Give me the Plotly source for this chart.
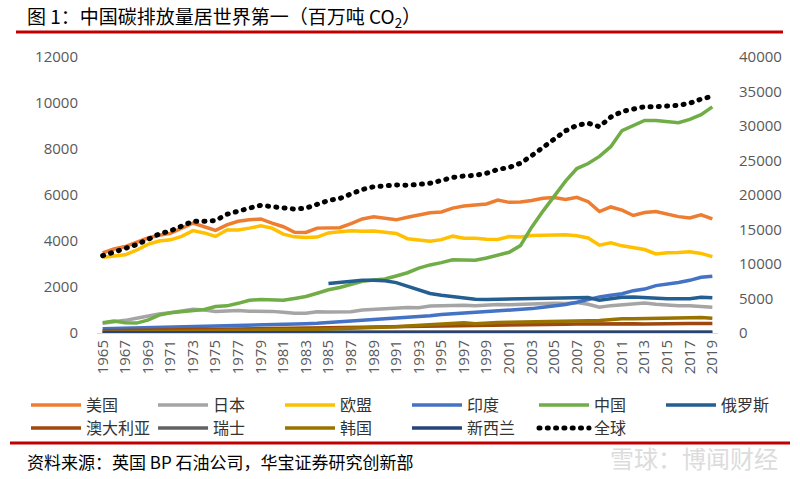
import plotly.graph_objects as go

years = list(range(1965, 2020))

usa = [3480, 3650, 3760, 3950, 4130, 4250, 4330, 4560, 4780, 4620,
       4460, 4700, 4860, 4920, 4960, 4780, 4620, 4380, 4370, 4560,
       4580, 4580, 4760, 4960, 5050, 4990, 4920, 5030, 5140, 5230,
       5260, 5430, 5520, 5550, 5610, 5780, 5680, 5700, 5760, 5860,
       5890, 5810, 5900, 5710, 5280, 5480, 5340, 5110, 5240, 5280,
       5160, 5060, 5000, 5140, 4960]

japan = [420, 470, 550, 640, 730, 830, 880, 940, 1030, 1000,
         940, 960, 980, 950, 960, 940, 900, 860, 860, 920,
         910, 910, 920, 1000, 1030, 1080, 1100, 1110, 1100, 1170,
         1190, 1210, 1210, 1180, 1220, 1240, 1230, 1250, 1260, 1280,
         1290, 1280, 1320, 1250, 1120, 1190, 1230, 1280, 1300, 1250,
         1210, 1190, 1180, 1150, 1120]

eu = [3290, 3330, 3400, 3600, 3850, 4000, 4050, 4200, 4450, 4350,
      4200, 4480, 4480, 4560, 4660, 4560, 4300, 4180, 4150, 4170,
      4350, 4400, 4450, 4420, 4430, 4380, 4330, 4100, 4040, 3990,
      4060, 4210, 4120, 4120, 4080, 4070, 4190, 4170, 4240, 4250,
      4240, 4270, 4230, 4130, 3820, 3920, 3790, 3720, 3630, 3440,
      3490, 3500, 3530, 3460, 3320]

india = [190, 200, 205, 220, 230, 240, 250, 260, 270, 280,
         290, 300, 310, 320, 330, 340, 360, 380, 400, 420,
         450, 480, 510, 550, 590, 620, 650, 690, 710, 750,
         800, 830, 860, 880, 930, 970, 990, 1020, 1060, 1120,
         1170, 1240, 1340, 1450, 1570, 1640, 1710, 1840, 1910, 2060,
         2120, 2200, 2290, 2420, 2470]

china = [450, 520, 450, 430, 560, 780, 880, 930, 1000, 1020,
         1150, 1180, 1290, 1420, 1460, 1440, 1420, 1500, 1590, 1730,
         1880, 1980, 2110, 2250, 2300, 2350, 2480, 2620, 2820, 2960,
         3060, 3180, 3170, 3160, 3260, 3370, 3510, 3800, 4600, 5300,
         5950, 6600, 7150, 7370, 7680, 8100, 8800, 9000, 9240, 9240,
         9200, 9140, 9290, 9490, 9830]

russia = [None] * 20 + [
          2150, 2200, 2250, 2290, 2290, 2270, 2190, 2030, 1900, 1720,
          1640, 1580, 1510, 1470, 1460, 1470, 1470, 1470, 1500, 1500,
          1490, 1530, 1530, 1540, 1420, 1490, 1550, 1560, 1530, 1520,
          1490, 1490, 1490, 1550, 1530]

australia = [95, 100, 105, 110, 115, 125, 130, 135, 145, 150,
             155, 165, 175, 180, 190, 200, 205, 210, 210, 215,
             220, 225, 235, 245, 260, 265, 265, 270, 275, 280,
             290, 300, 310, 325, 335, 340, 345, 350, 355, 365,
             375, 380, 390, 400, 410, 405, 405, 405, 395, 390,
             395, 405, 410, 415, 415]

switzerland = [30, 32, 34, 36, 38, 40, 42, 43, 44, 42,
               40, 41, 42, 43, 43, 42, 41, 40, 41, 42,
               43, 44, 44, 43, 43, 44, 45, 45, 44, 43,
               43, 44, 44, 45, 45, 44, 45, 44, 45, 45,
               46, 45, 43, 44, 43, 44, 41, 42, 43, 40,
               39, 39, 38, 37, 37]

korea = [20, 25, 30, 40, 45, 55, 60, 65, 75, 80,
         85, 95, 110, 120, 135, 135, 140, 145, 155, 165,
         175, 185, 195, 215, 225, 245, 270, 305, 340, 365,
         395, 425, 450, 400, 435, 460, 465, 480, 485, 495,
         500, 505, 525, 535, 540, 590, 620, 615, 620, 615,
         625, 640, 665, 675, 640]

new_zealand = [10, 11, 11, 12, 12, 13, 14, 14, 15, 15,
               15, 16, 16, 16, 17, 17, 18, 19, 20, 21,
               22, 23, 24, 25, 25, 26, 27, 28, 28, 29,
               29, 30, 32, 31, 33, 34, 35, 35, 36, 36,
               37, 37, 36, 37, 35, 35, 34, 35, 35, 35,
               35, 34, 35, 35, 35]

world = [11200, 11700, 12150, 12800, 13550, 14350, 14800, 15550, 16200, 16200,
         16300, 17200, 17720, 18100, 18500, 18300, 18100, 17950, 18100, 18700,
         19200, 19500, 20100, 20800, 21200, 21400, 21450, 21400, 21550, 21700,
         22100, 22550, 22750, 22850, 23150, 23700, 24000, 24600, 25700, 26900,
         28200, 29300, 30100, 30400, 29900, 31300, 32100, 32500, 32800, 32800,
         32850, 33000, 33300, 33900, 34300]

names = ["美国", "日本", "欧盟", "印度", "中国", "俄罗斯",
         "澳大利亚", "瑞士", "韩国", "新西兰"]
values = [usa, japan, eu, india, china, russia,
          australia, switzerland, korea, new_zealand]
colors = ["#ED7D31", "#A5A5A5", "#FFC000", "#4472C4", "#70AD47", "#255E91",
          "#9E480E", "#636363", "#997300", "#264478"]

for v in values + [world]:
    assert len(v) == len(years), len(v)

tick_years = years[::2]

# legend groups: two rows, each split into a left and right block of 3 entries
legend_ids = ["legend", "legend", "legend", "legend2", "legend2", "legend2",
              "legend3", "legend3", "legend3", "legend4"]

fig = go.Figure()
for nm, vals, col, lg in zip(names, values, colors, legend_ids):
    fig.add_trace(go.Scatter(
        x=years, y=vals, name=nm, mode="lines",
        line=dict(color=col, width=3.5), legend=lg,
    ))
fig.add_trace(go.Scatter(
    x=years, y=world, name="全球", mode="lines", yaxis="y2",
    line=dict(color="#000000", width=5, dash="1px,7.3px"),
    legend="legend4",
))

axis_font = dict(family="Open Sans, DejaVu Sans, sans-serif", size=15, color="#595959")
legend_common = dict(
    orientation="h", xref="container", yref="container",
    xanchor="left", yanchor="middle",
    entrywidth=62, entrywidthmode="pixels",
    font=dict(family="Noto Sans CJK SC, sans-serif", size=16, color="#333333"),
    bgcolor="rgba(0,0,0,0)", itemwidth=50,
    tracegroupgap=0,
)
row1_y = 1 - 405 / 479
row2_y = 1 - 428 / 479
left_x = 26 / 800
right_x = (26 + 3 * 127) / 800

fig.update_layout(
    width=800, height=479,
    margin=dict(l=97, r=82, t=57, b=146, autoexpand=False),
    paper_bgcolor="white", plot_bgcolor="white",
    font=dict(family="Noto Sans CJK SC, sans-serif", color="#333333"),
    title=dict(
        text="图 1：中国碳排放量居世界第一（百万吨 CO<sub>2</sub>）",
        xref="container", yref="container",
        x=27 / 800, xanchor="left", y=1 - 17 / 479, yanchor="middle",
        font=dict(family="Noto Sans CJK SC, sans-serif", size=19, color="#000000"),
    ),
    xaxis=dict(
        range=[1964.5, 2019.5], tickmode="array", tickvals=tick_years,
        ticktext=[str(y) for y in tick_years], tickangle=-90,
        tickfont=axis_font, showgrid=False, zeroline=False,
        showline=True, linecolor="#D9D9D9", linewidth=1, ticks="",
        automargin=False,
    ),
    yaxis=dict(
        range=[0, 12000], dtick=2000, tickformat="d", showgrid=False,
        zeroline=False, showline=False, ticks="", tickfont=axis_font,
        ticklabelstandoff=18, automargin=False,
    ),
    yaxis2=dict(
        range=[0, 40000], dtick=5000, tickformat="d", showgrid=False,
        zeroline=False, showline=False, ticks="", tickfont=axis_font,
        overlaying="y", side="right", ticklabelstandoff=20, automargin=False,
    ),
    legend=dict(x=left_x, y=row1_y, **legend_common),
    legend2=dict(x=right_x, y=row1_y, **legend_common),
    legend3=dict(x=left_x, y=row2_y, **legend_common),
    legend4=dict(x=right_x, y=row2_y, **legend_common),
    showlegend=True,
)

# red rules above the chart and above the source line
def px_x(p):
    return (p - 97) / 621

def px_y(p):
    return (333 - p) / 276

fig.add_shape(type="line", xref="paper", yref="paper",
              x0=px_x(16), x1=px_x(783), y0=px_y(32), y1=px_y(32),
              line=dict(color="#C00000", width=3))
fig.add_shape(type="line", xref="paper", yref="paper",
              x0=px_x(10), x1=px_x(790), y0=px_y(443), y1=px_y(443),
              line=dict(color="#C00000", width=3))

fig.add_annotation(
    text="资料来源：英国 BP 石油公司，华宝证券研究创新部",
    xref="paper", yref="paper", x=px_x(25), y=px_y(461),
    xanchor="left", yanchor="middle", showarrow=False,
    font=dict(family="Noto Sans CJK SC, sans-serif", size=17, color="#000000"),
)
fig.add_annotation(
    text="雪球：博闻财经",
    xref="paper", yref="paper", x=px_x(780), y=px_y(457),
    xanchor="right", yanchor="middle", showarrow=False,
    font=dict(family="Noto Sans CJK SC, sans-serif", size=24, color="#DCDCDC"),
)

post = """
document.body.style.margin = '0';
document.body.style.padding = '0';
document.body.style.overflow = 'hidden';
var gd = document.getElementById('{plot_id}');
function roundDots(){
  gd.querySelectorAll('path.js-line').forEach(function(p){
    var d = p.style.strokeDasharray;
    if (d && d !== 'none' && d !== '') { p.style.strokeLinecap = 'round'; }
  });
}
roundDots();
gd.on('plotly_afterplot', roundDots);
"""

fig.write_html("out.html", post_script=post, config={"displayModeBar": False})
